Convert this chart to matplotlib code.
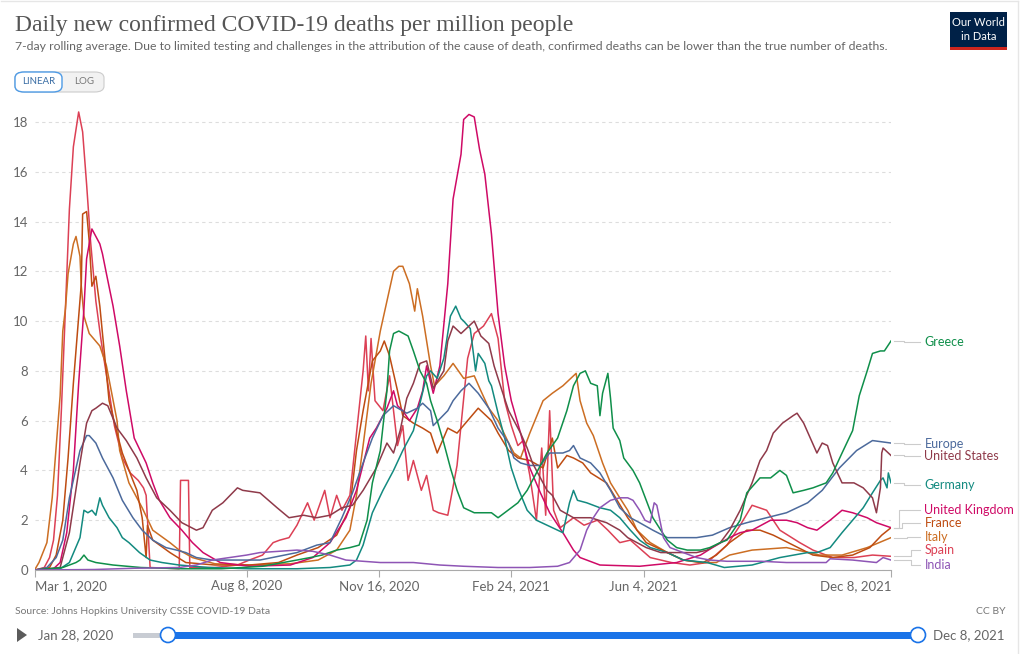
import matplotlib
matplotlib.use("Agg")
import matplotlib.pyplot as plt
import numpy as np
from matplotlib.patches import FancyBboxPatch, Rectangle, Circle, Polygon

plt.rcParams['font.family'] = ['Lato', 'DejaVu Sans']

# ---- data (7-day avg deaths per million) ----
greece_dates = ['2020-03-01', '2020-03-22', '2020-04-01', '2020-04-04', '2020-04-07', '2020-04-10', '2020-04-16',
                '2020-04-29', '2020-05-20', '2020-06-20', '2020-07-20', '2020-08-20', '2020-09-15', '2020-09-25',
                '2020-10-04', '2020-10-15', '2020-10-25', '2020-11-01', '2020-11-07', '2020-11-11', '2020-11-17',
                '2020-11-22', '2020-11-24', '2020-11-27', '2020-12-01', '2020-12-08', '2020-12-12', '2020-12-17',
                '2020-12-22', '2020-12-25', '2020-12-30', '2021-01-04', '2021-01-09', '2021-01-14', '2021-01-19',
                '2021-01-27', '2021-02-09', '2021-02-14', '2021-03-01', '2021-03-08', '2021-03-15', '2021-03-23',
                '2021-03-31', '2021-04-07', '2021-04-12', '2021-04-17', '2021-04-21', '2021-04-25', '2021-04-30',
                '2021-05-02', '2021-05-04', '2021-05-08', '2021-05-10', '2021-05-12', '2021-05-17', '2021-05-20',
                '2021-05-27', '2021-06-01', '2021-06-06', '2021-06-11', '2021-06-17', '2021-06-22', '2021-06-29',
                '2021-07-07', '2021-07-17', '2021-07-24', '2021-08-01', '2021-08-06', '2021-08-16', '2021-08-21',
                '2021-08-31', '2021-09-08', '2021-09-15', '2021-09-20', '2021-09-25', '2021-10-03', '2021-10-10',
                '2021-10-20', '2021-10-25', '2021-11-01', '2021-11-09', '2021-11-14', '2021-11-20', '2021-11-24',
                '2021-11-30', '2021-12-03', '2021-12-08']
greece_vals = [0, 0.1, 0.3, 0.4, 0.6, 0.4, 0.3,
               0.2, 0.1, 0.05, 0.05, 0.15, 0.4, 0.5,
               0.6, 0.8, 0.9, 1.0, 2.0, 3.5, 4.8,
               7.2, 8.8, 9.5, 9.6, 9.4, 8.8, 8.0,
               7.5, 6.8, 6.0, 5.1, 4.1, 3.2, 2.5,
               2.3, 2.3, 2.1, 2.7, 3.2, 3.9, 4.7,
               5.3, 6.4, 7.4, 7.9, 8.0, 7.5, 7.4,
               6.2, 7.1, 7.9, 6.9, 5.7, 5.2, 4.5,
               4.0, 3.5, 2.8, 2.1, 1.6, 1.2, 0.9,
               0.8, 0.8, 0.9, 1.1, 1.2, 2.0, 3.1,
               3.7, 3.7, 4.0, 3.8, 3.1, 3.2, 3.3,
               3.5, 3.9, 4.7, 5.6, 7.0, 8.0, 8.7,
               8.8, 8.8, 9.2]

europe_dates = ['2020-03-01', '2020-03-10', '2020-03-17', '2020-03-22', '2020-03-27', '2020-04-04', '2020-04-09',
                '2020-04-11', '2020-04-16', '2020-04-21', '2020-04-29', '2020-05-06', '2020-05-14', '2020-05-21',
                '2020-05-29', '2020-06-08', '2020-06-16', '2020-06-23', '2020-07-01', '2020-07-13', '2020-08-01',
                '2020-08-18', '2020-09-15', '2020-09-30', '2020-10-10', '2020-10-19', '2020-10-27', '2020-11-04',
                '2020-11-11', '2020-11-19', '2020-11-27', '2020-12-07', '2020-12-15', '2020-12-19', '2020-12-25',
                '2020-12-27', '2021-01-07', '2021-01-11', '2021-01-17', '2021-01-23', '2021-01-30', '2021-02-07',
                '2021-02-14', '2021-02-22', '2021-02-26', '2021-03-03', '2021-03-10', '2021-03-18', '2021-03-25',
                '2021-04-04', '2021-04-09', '2021-04-12', '2021-04-17', '2021-04-25', '2021-05-02', '2021-05-10',
                '2021-05-17', '2021-05-25', '2021-06-01', '2021-06-11', '2021-06-22', '2021-07-01', '2021-07-14',
                '2021-07-26', '2021-08-08', '2021-08-21', '2021-09-05', '2021-09-20', '2021-10-06', '2021-10-17',
                '2021-10-30', '2021-11-12', '2021-11-24', '2021-12-08']
europe_vals = [0, 0.1, 0.5, 1.2, 2.9, 4.8, 5.4,
               5.4, 5.1, 4.5, 3.7, 2.8, 2.1, 1.6,
               1.2, 0.9, 0.8, 0.7, 0.5, 0.4, 0.4,
               0.4, 0.7, 1.0, 1.1, 2.1, 3.1, 4.3,
               5.3, 6.2, 6.6, 6.3, 6.5, 6.7, 6.4,
               5.8, 6.4, 6.8, 7.2, 7.5, 7.1, 6.5,
               5.7, 5.1, 4.5, 4.3, 4.2, 4.2, 4.7,
               4.7, 4.8, 5.0, 4.5, 4.3, 3.9, 3.2,
               2.5, 2.1, 1.9, 1.6, 1.3, 1.3, 1.3,
               1.4, 1.7, 1.9, 2.1, 2.3, 2.7, 3.2,
               4.1, 4.8, 5.2, 5.1]

us_dates = ['2020-03-01', '2020-03-20', '2020-03-27', '2020-04-04', '2020-04-09', '2020-04-13', '2020-04-16',
            '2020-04-21', '2020-04-25', '2020-05-02', '2020-05-09', '2020-05-17', '2020-05-24', '2020-06-01',
            '2020-06-11', '2020-06-20', '2020-07-01', '2020-07-06', '2020-07-13', '2020-07-21', '2020-08-01',
            '2020-08-05', '2020-08-18', '2020-08-31', '2020-09-09', '2020-09-20', '2020-09-30', '2020-10-10',
            '2020-10-19', '2020-10-27', '2020-11-04', '2020-11-14', '2020-11-22', '2020-11-27', '2020-12-02',
            '2020-12-07', '2020-12-12', '2020-12-17', '2020-12-22', '2020-12-27', '2021-01-04', '2021-01-07',
            '2021-01-11', '2021-01-17', '2021-01-27', '2021-02-01', '2021-02-07', '2021-02-11', '2021-02-17',
            '2021-02-22', '2021-02-26', '2021-03-03', '2021-03-08', '2021-03-12', '2021-03-18', '2021-03-23',
            '2021-03-27', '2021-04-02', '2021-04-12', '2021-04-25', '2021-05-07', '2021-05-17', '2021-05-23',
            '2021-06-06', '2021-06-17', '2021-07-01', '2021-07-14', '2021-07-22', '2021-08-01', '2021-08-08',
            '2021-08-16', '2021-08-25', '2021-08-31', '2021-09-05', '2021-09-10', '2021-09-17', '2021-09-25',
            '2021-09-28', '2021-10-03', '2021-10-08', '2021-10-13', '2021-10-17', '2021-10-21', '2021-10-25',
            '2021-11-01', '2021-11-10', '2021-11-17', '2021-11-24', '2021-11-27', '2021-11-30', '2021-12-01',
            '2021-12-02', '2021-12-08']
us_vals = [0, 0.1, 1.5, 4.3, 5.9, 6.4, 6.5,
           6.7, 6.6, 5.7, 5.2, 4.5, 3.7, 2.9,
           2.4, 1.9, 1.6, 1.7, 2.4, 2.7, 3.3,
           3.2, 3.1, 2.5, 2.1, 2.2, 2.1, 2.2,
           2.5, 2.6, 3.2, 4.1, 5.1, 4.7, 5.6,
           6.9, 7.5, 8.3, 8.4, 7.3, 8.0, 9.2,
           9.8, 9.5, 10.0, 9.4, 9.1, 8.2, 7.2,
           6.4, 6.0, 5.5, 4.9, 4.3, 3.7, 3.2,
           3.0, 2.4, 2.1, 2.1, 1.9, 1.6, 1.3,
           0.9, 0.7, 0.7, 0.7, 0.8, 1.1, 1.6,
           2.4, 3.5, 4.4, 4.8, 5.5, 5.9, 6.2,
           6.3, 5.9, 5.3, 4.7, 5.1, 5.0, 4.3,
           3.5, 3.5, 3.3, 2.9, 2.3, 3.3, 4.7,
           4.9, 4.6]

germany_dates = ['2020-03-01', '2020-03-20', '2020-03-27', '2020-04-04', '2020-04-07', '2020-04-10', '2020-04-13',
                 '2020-04-16', '2020-04-19', '2020-04-21', '2020-04-26', '2020-05-02', '2020-05-06', '2020-05-11',
                 '2020-05-19', '2020-05-27', '2020-06-05', '2020-06-18', '2020-07-10', '2020-08-10', '2020-09-15',
                 '2020-10-10', '2020-10-25', '2020-10-30', '2020-11-04', '2020-11-11', '2020-11-19', '2020-11-27',
                 '2020-12-04', '2020-12-12', '2020-12-17', '2020-12-22', '2020-12-25', '2020-12-30', '2021-01-04',
                 '2021-01-09', '2021-01-13', '2021-01-17', '2021-01-19', '2021-01-24', '2021-01-28', '2021-01-30',
                 '2021-02-04', '2021-02-07', '2021-02-09', '2021-02-14', '2021-02-19', '2021-02-24', '2021-03-01',
                 '2021-03-08', '2021-03-15', '2021-03-27', '2021-04-04', '2021-04-09', '2021-04-12', '2021-04-15',
                 '2021-04-22', '2021-05-02', '2021-05-10', '2021-05-17', '2021-05-25', '2021-06-01', '2021-06-09',
                 '2021-06-22', '2021-07-04', '2021-07-22', '2021-08-04', '2021-08-25', '2021-09-15', '2021-10-06',
                 '2021-10-13', '2021-10-23', '2021-11-01', '2021-11-09', '2021-11-17', '2021-11-24', '2021-11-30',
                 '2021-12-02', '2021-12-05', '2021-12-06', '2021-12-08']
germany_vals = [0, 0.05, 0.3, 1.3, 2.4, 2.3, 2.4,
                2.2, 2.9, 2.6, 2.1, 1.7, 1.3, 1.1,
                0.7, 0.4, 0.3, 0.2, 0.1, 0.05, 0.05,
                0.1, 0.2, 0.4, 1.0, 2.3, 3.2, 4.0,
                4.8, 5.6, 6.7, 7.8, 8.0, 7.7, 8.5,
                10.2, 10.6, 10.1, 10.0, 9.7, 8.0, 8.7,
                8.3, 7.6, 7.4, 6.3, 5.3, 4.1, 3.3,
                2.4, 2.0, 1.7, 1.5, 2.7, 3.2, 2.8,
                2.7, 2.5, 2.4, 2.1, 1.6, 1.2, 0.9,
                0.7, 0.4, 0.3, 0.1, 0.2, 0.5, 0.7,
                0.7, 0.9, 1.5, 2.0, 2.5, 3.1, 3.6,
                3.7, 3.3, 3.9, 3.5]

uk_dates = ['2020-03-01', '2020-03-15', '2020-03-20', '2020-03-25', '2020-03-30', '2020-04-03', '2020-04-07',
            '2020-04-09', '2020-04-13', '2020-04-16', '2020-04-19', '2020-04-21', '2020-04-24', '2020-04-29',
            '2020-05-04', '2020-05-09', '2020-05-15', '2020-05-24', '2020-05-29', '2020-06-03', '2020-06-11',
            '2020-06-20', '2020-06-28', '2020-07-06', '2020-07-19', '2020-08-10', '2020-09-10', '2020-09-27',
            '2020-10-10', '2020-10-22', '2020-10-30', '2020-11-09', '2020-11-14', '2020-11-22', '2020-11-27',
            '2020-11-30', '2020-12-04', '2020-12-09', '2020-12-15', '2020-12-19', '2020-12-22', '2020-12-27',
            '2021-01-01', '2021-01-07', '2021-01-11', '2021-01-14', '2021-01-17', '2021-01-19', '2021-01-23',
            '2021-01-27', '2021-01-31', '2021-02-04', '2021-02-09', '2021-02-14', '2021-02-19', '2021-02-24',
            '2021-03-03', '2021-03-10', '2021-03-18', '2021-03-25', '2021-04-04', '2021-04-12', '2021-04-17',
            '2021-05-02', '2021-06-01', '2021-06-29', '2021-07-17', '2021-07-26', '2021-08-08', '2021-08-16',
            '2021-08-25', '2021-09-08', '2021-09-20', '2021-09-28', '2021-10-06', '2021-10-13', '2021-10-23',
            '2021-11-01', '2021-11-09', '2021-11-20', '2021-11-27', '2021-12-08']
uk_vals = [0, 0.05, 0.3, 1.5, 4.0, 7.5, 10.5,
           12.5, 13.7, 13.4, 13.1, 12.7, 11.9, 10.6,
           9.0, 7.2, 5.3, 4.3, 3.5, 2.8, 2.1,
           1.6, 1.1, 0.7, 0.3, 0.15, 0.2, 0.5,
           1.1, 2.1, 3.2, 5.3, 5.7, 6.5, 7.2,
           6.6, 6.4, 6.0, 6.5, 7.2, 8.2, 7.1,
           8.2, 11.5, 14.9, 15.8, 16.7, 18.1, 18.3,
           18.2, 16.9, 15.9, 13.5, 10.3, 8.2, 6.8,
           5.5, 4.1, 3.1, 2.3, 1.5, 0.8, 0.5,
           0.2, 0.15, 0.3, 0.6, 0.9, 1.3, 1.5,
           1.6, 2.0, 2.0, 1.9, 1.7, 1.6, 2.0,
           2.4, 2.3, 2.1, 1.9, 1.7]

france_dates = ['2020-03-01', '2020-03-12', '2020-03-17', '2020-03-22', '2020-03-26', '2020-03-30', '2020-04-02',
                '2020-04-05', '2020-04-06', '2020-04-09', '2020-04-11', '2020-04-13', '2020-04-16', '2020-04-19',
                '2020-04-21', '2020-04-24', '2020-04-26', '2020-05-02', '2020-05-06', '2020-05-14', '2020-05-17',
                '2020-05-21', '2020-05-24', '2020-05-25', '2020-05-29', '2020-06-11', '2020-06-23', '2020-07-15',
                '2020-08-10', '2020-09-01', '2020-09-15', '2020-10-01', '2020-10-15', '2020-10-25', '2020-10-30',
                '2020-11-04', '2020-11-11', '2020-11-17', '2020-11-20', '2020-11-24', '2020-11-30', '2020-12-04',
                '2020-12-12', '2020-12-19', '2020-12-25', '2020-12-30', '2021-01-07', '2021-01-14', '2021-01-22',
                '2021-01-30', '2021-02-09', '2021-02-14', '2021-02-22', '2021-03-01', '2021-03-10', '2021-03-20',
                '2021-03-27', '2021-03-31', '2021-04-07', '2021-04-12', '2021-04-19', '2021-04-25', '2021-05-07',
                '2021-05-15', '2021-05-23', '2021-05-30', '2021-06-06', '2021-06-22', '2021-07-04', '2021-07-19',
                '2021-07-29', '2021-08-08', '2021-08-21', '2021-08-31', '2021-09-10', '2021-09-25', '2021-10-10',
                '2021-10-25', '2021-11-09', '2021-11-22', '2021-12-01', '2021-12-08']
france_vals = [0, 0.1, 0.6, 2.0, 4.5, 7.5, 9.5,
               11.5, 14.3, 14.4, 13.2, 11.4, 11.8, 10.6,
               9.5, 7.9, 6.8, 5.5, 4.7, 3.6, 3.2,
               2.1, 0.5, 1.8, 1.2, 0.7, 0.3, 0.2,
               0.2, 0.3, 0.6, 0.9, 1.4, 2.5, 4.8,
               6.4, 8.4, 8.8, 9.2, 8.6, 7.2, 6.2,
               5.9, 5.7, 5.5, 4.7, 5.7, 5.5, 6.0,
               6.5, 6.0, 5.5, 4.8, 4.5, 4.4, 4.1,
               5.3, 4.1, 4.6, 4.5, 4.3, 3.9, 3.5,
               2.8, 2.1, 1.6, 1.1, 0.7, 0.4, 0.3,
               0.6, 1.1, 1.6, 1.6, 1.4, 1.0, 0.6,
               0.5, 0.6, 0.9, 1.4, 1.7]

italy_dates = ['2020-03-01', '2020-03-04', '2020-03-10', '2020-03-14', '2020-03-20', '2020-03-22', '2020-03-24',
               '2020-03-26', '2020-03-30', '2020-04-01', '2020-04-04', '2020-04-05', '2020-04-07', '2020-04-11',
               '2020-04-19', '2020-04-24', '2020-05-02', '2020-05-04', '2020-05-11', '2020-05-21', '2020-05-29',
               '2020-06-11', '2020-06-18', '2020-06-28', '2020-07-15', '2020-08-10', '2020-09-10', '2020-10-01',
               '2020-10-15', '2020-10-25', '2020-10-30', '2020-11-04', '2020-11-10', '2020-11-17', '2020-11-22',
               '2020-11-27', '2020-12-01', '2020-12-04', '2020-12-09', '2020-12-13', '2020-12-15', '2020-12-19',
               '2020-12-25', '2020-12-28', '2021-01-04', '2021-01-11', '2021-01-19', '2021-01-27', '2021-02-01',
               '2021-02-07', '2021-02-14', '2021-02-22', '2021-02-26', '2021-03-03', '2021-03-10', '2021-03-20',
               '2021-03-27', '2021-04-04', '2021-04-12', '2021-04-14', '2021-04-17', '2021-04-22', '2021-04-27',
               '2021-05-04', '2021-05-10', '2021-05-17', '2021-05-23', '2021-05-30', '2021-06-09', '2021-06-22',
               '2021-07-04', '2021-07-17', '2021-07-29', '2021-08-08', '2021-08-25', '2021-09-20', '2021-10-15',
               '2021-11-01', '2021-11-20', '2021-12-08']
italy_vals = [0.03, 0.3, 1.1, 2.9, 7.0, 9.6, 10.5,
              11.9, 13.1, 13.4, 12.6, 11.4, 10.2, 9.5,
              9.0, 8.2, 6.0, 4.8, 3.5, 2.5, 1.6,
              1.1, 0.8, 0.5, 0.25, 0.2, 0.25, 0.4,
              0.8, 1.6, 3.0, 5.0, 7.5, 9.6, 10.8,
              12.0, 12.2, 12.2, 11.5, 10.4, 11.3, 10.2,
              8.2, 7.4, 7.8, 8.3, 7.7, 7.8, 7.2,
              6.5, 6.0, 5.1, 4.7, 4.5, 5.5, 6.8,
              7.1, 7.4, 7.8, 7.9, 6.8, 5.9, 5.4,
              4.3, 3.5, 2.9, 2.4, 1.6, 1.1, 0.7,
              0.4, 0.3, 0.3, 0.6, 0.8, 0.9, 0.6,
              0.6, 0.9, 1.3]

spain_dates = ['2020-03-01', '2020-03-08', '2020-03-12', '2020-03-15', '2020-03-18', '2020-03-21', '2020-03-24',
               '2020-03-27', '2020-03-30', '2020-04-03', '2020-04-06', '2020-04-09', '2020-04-12', '2020-04-16',
               '2020-04-20', '2020-04-25', '2020-04-30', '2020-05-06', '2020-05-12', '2020-05-18', '2020-05-22',
               '2020-05-24', '2020-05-27', '2020-06-18', '2020-06-19', '2020-06-25', '2020-06-26', '2020-07-15',
               '2020-08-01', '2020-08-10', '2020-08-20', '2020-08-28', '2020-09-02', '2020-09-09', '2020-09-15',
               '2020-09-23', '2020-09-28', '2020-10-06', '2020-10-10', '2020-10-15', '2020-10-19', '2020-10-25',
               '2020-10-30', '2020-11-04', '2020-11-06', '2020-11-08', '2020-11-10', '2020-11-13', '2020-11-19',
               '2020-11-24', '2020-11-30', '2020-12-04', '2020-12-08', '2020-12-12', '2020-12-18', '2020-12-22',
               '2020-12-27', '2020-12-31', '2021-01-07', '2021-01-14', '2021-01-22', '2021-01-27', '2021-02-03',
               '2021-02-09', '2021-02-14', '2021-02-19', '2021-02-24', '2021-03-01', '2021-03-05', '2021-03-10',
               '2021-03-15', '2021-03-19', '2021-03-22', '2021-03-25', '2021-03-28', '2021-04-02', '2021-04-12',
               '2021-04-20', '2021-04-30', '2021-05-08', '2021-05-17', '2021-05-25', '2021-06-09', '2021-06-25',
               '2021-07-09', '2021-07-22', '2021-08-06', '2021-08-16', '2021-08-25', '2021-09-05', '2021-09-15',
               '2021-09-30', '2021-10-10', '2021-10-25', '2021-11-10', '2021-11-24', '2021-12-08']
spain_vals = [0, 0.1, 0.5, 1.2, 3.0, 6.5, 10.5,
              14.5, 17.0, 18.4, 17.6, 15.5, 13.2, 10.8,
              9.2, 7.5, 5.8, 4.5, 3.9, 3.6, 3.3,
              3.0, 0.1, 0.05, 3.6, 3.6, 0.1, 0.1,
              0.2, 0.4, 0.6, 1.1, 1.2, 1.3, 1.8,
              2.7, 2.0, 3.2, 2.1, 3.0, 2.4, 3.0,
              5.5, 8.0, 9.4, 7.2, 9.3, 6.8, 6.4,
              7.8, 5.0, 5.8, 3.6, 4.4, 3.2, 3.8,
              2.4, 2.3, 2.2, 4.2, 8.5, 9.5, 9.8,
              10.3, 9.3, 6.8, 5.8, 5.0, 5.2, 3.8,
              2.0, 4.9, 2.2, 6.4, 2.4, 1.7, 2.1,
              1.8, 2.0, 1.6, 1.1, 1.2, 0.5, 0.3,
              0.2, 0.3, 1.0, 1.8, 2.6, 2.4, 1.6,
              1.1, 0.8, 0.5, 0.5, 0.6, 0.55]

india_dates = ['2020-03-01', '2020-04-15', '2020-05-15', '2020-06-18', '2020-07-01', '2020-07-13', '2020-07-26',
               '2020-08-08', '2020-08-18', '2020-09-15', '2020-09-27', '2020-10-10', '2020-10-22', '2020-11-17',
               '2020-12-12', '2021-01-01', '2021-01-19', '2021-02-14', '2021-03-10', '2021-03-31', '2021-04-09',
               '2021-04-17', '2021-04-22', '2021-04-27', '2021-05-02', '2021-05-10', '2021-05-17', '2021-05-23',
               '2021-05-27', '2021-06-01', '2021-06-05', '2021-06-09', '2021-06-12', '2021-06-14', '2021-06-19',
               '2021-06-24', '2021-07-04', '2021-07-14', '2021-07-24', '2021-08-06', '2021-09-01', '2021-09-20',
               '2021-10-20', '2021-10-23', '2021-11-09', '2021-11-27', '2021-12-02', '2021-12-08']
india_vals = [0, 0.02, 0.07, 0.1, 0.2, 0.4, 0.5,
              0.6, 0.7, 0.8, 0.75, 0.6, 0.4, 0.3,
              0.3, 0.2, 0.15, 0.1, 0.1, 0.15, 0.3,
              0.8, 1.6, 2.1, 2.5, 2.8, 2.9, 2.9,
              2.8, 2.4, 2.0, 1.9, 2.7, 2.6, 1.3,
              0.9, 0.7, 0.5, 0.4, 0.35, 0.35, 0.3,
              0.3, 0.45, 0.4, 0.3, 0.5, 0.4]

# name, dates, values, colour, label value (where the label sits), elbow x (axes fraction)
series = [
    ('Spain', spain_dates, spain_vals, '#dc4055', 0.80, 1.0235),
    ('Italy', italy_dates, italy_vals, '#cc6e23', 1.33, 1.0190),
    ('France', france_dates, france_vals, '#be4c12', 1.89, 1.0125),
    ('United Kingdom', uk_dates, uk_vals, '#cf0a66', 2.41, 1.0090),
    ('Germany', germany_dates, germany_vals, '#138a80', 3.41, 1.0150),
    ('Europe', europe_dates, europe_vals, '#4c6a9c', 5.06, 1.0150),
    ('United States', us_dates, us_vals, '#8f3a4a', 4.58, 1.0150),
    ('Greece', greece_dates, greece_vals, '#0f8f4a', 9.16, 1.0150),
    ('India', india_dates, india_vals, '#8e55b5', 0.20, 1.0235),
]

W, H = 1024, 654
fig = plt.figure(figsize=(W / 100, H / 100), dpi=100)
ax = fig.add_axes([35 / W, 1 - 570 / H, 856 / W, 463 / H])

for name, d, v, c, lab_y, elbow in series:
    ax.plot(np.array(d, dtype='datetime64[D]'), v, color=c, lw=1.1, solid_joinstyle='round')

ax.set_xlim(np.datetime64('2020-03-01'), np.datetime64('2021-12-08'))
ax.set_ylim(0, 18.6)

tick_dates = ['2020-03-01', '2020-08-08', '2020-11-16', '2021-02-24', '2021-06-04', '2021-12-08']
tick_labels = ['Mar 1, 2020', 'Aug 8, 2020', 'Nov 16, 2020', 'Feb 24, 2021', 'Jun 4, 2021', 'Dec 8, 2021']
ax.set_xticks(np.array(tick_dates, dtype='datetime64[D]'))
ax.set_xticklabels(tick_labels)
xt = ax.get_xticklabels()
xt[0].set_ha('left')
xt[-1].set_ha('right')
ax.tick_params(axis='x', colors='#aaaaaa', labelcolor='#666666', labelsize=9.5, length=5, width=0.8, pad=2)

ax.set_yticks(np.arange(0, 19, 2))
ax.tick_params(axis='y', length=0, labelcolor='#666666', labelsize=9.5, pad=5)
ax.yaxis.grid(True, color='#dddddd', lw=0.8, linestyle=(0, (3, 3)))
ax.set_axisbelow(True)
for s in ['top', 'right', 'left']:
    ax.spines[s].set_visible(False)
ax.spines['bottom'].set_color('#aaaaaa')
ax.spines['bottom'].set_linewidth(0.8)

# line labels on the right with connector lines
yt = ax.get_yaxis_transform()
for name, d, v, c, lab_y, elbow in series:
    end_y = v[-1]
    ax.plot([1.003, elbow, elbow, 1.034], [end_y, end_y, lab_y, lab_y], transform=yt,
            color='#cccccc', lw=0.8, clip_on=False)
    ax.text(1.039, lab_y, name, transform=yt, color=c, fontsize=9, va='center', ha='left')


def fx(x):
    return x / W


def fy(y):
    return 1 - y / H


# title block
fig.text(fx(15), fy(25), 'Daily new confirmed COVID-19 deaths per million people',
         family='Liberation Serif', fontsize=17, color='#555555', va='center', ha='left')
fig.text(fx(15), fy(47), '7-day rolling average. Due to limited testing and challenges in the attribution of the '
         'cause of death, confirmed deaths can be lower than the true number of deaths.',
         fontsize=8.85, color='#666666', va='center', ha='left')

# linear / log toggle
fig.patches.append(FancyBboxPatch((fx(15), fy(92)), fx(89), 20 / H, boxstyle='round,pad=0,rounding_size=0.009',
                                  transform=fig.transFigure, fc='#f2f2f2', ec='#cccccc', lw=0.8))
fig.patches.append(FancyBboxPatch((fx(15), fy(92)), fx(47), 20 / H, boxstyle='round,pad=0,rounding_size=0.009',
                                  transform=fig.transFigure, fc='white', ec='#4e9be6', lw=1.0))
fig.text(fx(38.5), fy(82), 'LINEAR', fontsize=7, color='#3a6ea5', ha='center', va='center')
fig.text(fx(84), fy(82), 'LOG', fontsize=7, color='#777777', ha='center', va='center')

# logo
fig.patches.append(Rectangle((fx(950), fy(50)), fx(57), 38 / H, transform=fig.transFigure,
                             fc='#002147', ec='none'))
fig.patches.append(Rectangle((fx(950), fy(50)), fx(57), 3 / H, transform=fig.transFigure,
                             fc='#ce261e', ec='none'))
fig.text(fx(978.5), fy(23), 'Our World', fontsize=8, color='white', ha='center', va='center')
fig.text(fx(978.5), fy(37), 'in Data', fontsize=8, color='white', ha='center', va='center')

# footer
fig.text(fx(15), fy(611), 'Source: Johns Hopkins University CSSE COVID-19 Data', fontsize=7.5,
         color='#777777', va='center', ha='left')
fig.text(fx(1005), fy(611), 'CC BY', fontsize=7.5, color='#777777', va='center', ha='right')

# timeline slider
fig.patches.append(Polygon([(fx(17), fy(628)), (fx(17), fy(642)), (fx(27), fy(635))],
                           closed=True, transform=fig.transFigure, fc='#5b5b5b', ec='none'))
fig.text(fx(38), fy(635), 'Jan 28, 2020', fontsize=9.5, color='#666666', va='center', ha='left')
fig.text(fx(933), fy(635), 'Dec 8, 2021', fontsize=9.5, color='#666666', va='center', ha='left')
fig.patches.append(Rectangle((fx(133), fy(638)), fx(35), 5 / H, transform=fig.transFigure,
                             fc='#c8ccd3', ec='none'))
fig.patches.append(Rectangle((fx(168), fy(639)), fx(750), 7 / H, transform=fig.transFigure,
                             fc='#1a73e8', ec='none'))
for hx in [168, 918]:
    fig.patches.append(Circle((hx, H - 635), 7.5, transform=None, fc='white', ec='#1a73e8', lw=1.2))

# faint frame
fig.add_artist(plt.Line2D([fx(1), fx(1018)], [fy(1), fy(1)], transform=fig.transFigure, color='#e6e6e6', lw=1))
fig.add_artist(plt.Line2D([fx(1018), fx(1018)], [fy(1), fy(654)], transform=fig.transFigure, color='#e6e6e6', lw=1))

fig.savefig('out.png', dpi=100, facecolor='white')
